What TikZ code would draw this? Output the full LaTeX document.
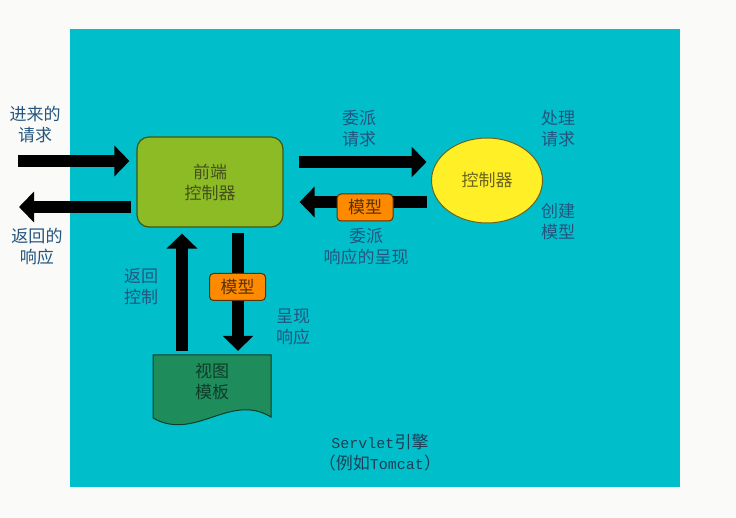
\documentclass[tikz,border=0pt]{standalone}
\usepackage{fontspec}
\setmainfont{Noto Sans CJK SC}
\newfontfamily\latinmono{Liberation Mono}
\usetikzlibrary{arrows.meta,shapes.geometric}
\definecolor{pagebg}{HTML}{FAFAF8}
\definecolor{bgcyan}{HTML}{00BFCB}
\definecolor{fcgreen}{HTML}{8CBB26}
\definecolor{fcborder}{HTML}{3E5812}
\definecolor{ctlyellow}{HTML}{FFEF26}
\definecolor{ctlborder}{HTML}{6A6420}
\definecolor{modelorange}{HTML}{FF8A00}
\definecolor{modelborder}{HTML}{5A3300}
\definecolor{docgreen}{HTML}{1F8C5C}
\definecolor{docborder}{HTML}{0E3D29}
\definecolor{labelblue}{HTML}{24557F}
\definecolor{boxtext}{HTML}{44521C}
\definecolor{enginetext}{HTML}{1E3E56}
\tikzset{
  cjk/.style={font=\fontsize{17}{21}\selectfont},
  lbl/.style={cjk, text=labelblue, align=center, inner sep=0pt},
  fcbox/.style={cjk, draw=fcborder, line width=1.2pt, fill=fcgreen, rounded corners=12pt,
    minimum width=146pt, minimum height=90pt, align=center, text=boxtext},
  ctlell/.style={cjk, ellipse, draw=ctlborder, line width=1pt, fill=ctlyellow,
    minimum width=111pt, minimum height=85pt, inner sep=0pt, text=ctlborder},
  modelbox/.style={cjk, draw=modelborder, line width=1pt, fill=modelorange, rounded corners=4pt,
    minimum width=56pt, minimum height=27pt, inner sep=0pt, text=modelborder},
  docbox/.style={cjk, minimum width=118pt, minimum height=54pt, inner sep=0pt, align=center, text=docborder},
  bigarrow/.style={line width=12pt, black, -{Triangle[length=15pt,width=30pt]}},
}
\begin{document}
\begin{tikzpicture}[x=1pt,y=-1pt]
\useasboundingbox (0,0) rectangle (736,518);
\fill[pagebg] (0,0) rectangle (736,518);
\fill[bgcyan] (70,29) rectangle (680,487);

% document shape
\fill[docgreen, draw=docborder, line width=1pt]
  (153,355) -- (271,355) -- (271,417) .. controls (230,392) and (195,442) .. (153,418) -- cycle;

\node[fcbox] (fc) at (210,182) {前端\\控制器};
\node[ctlell] (ctl) at (487,180.5) {控制器};
\node[docbox] (doc) at (212,382) {视图\\模板};

\coordinate (inL) at (18,161);
\coordinate (outL) at (19,207);

% arrows
\draw[bigarrow, shorten >=7pt] (inL) -- ([yshift=21pt]fc.west);
\draw[bigarrow, shorten <=5pt] ([yshift=-25pt]fc.west) -- (outL);
\draw[bigarrow, shorten <=15pt] ([yshift=20pt]fc.east) -- ([xshift=-4.5pt,yshift=18.5pt]ctl.west);
\draw[bigarrow] ([xshift=-4.5pt,yshift=-21.5pt]ctl.west) -- ([xshift=16pt,yshift=-20pt]fc.east);
\draw[bigarrow] ([xshift=-30pt,yshift=4pt]doc.north) -- ([xshift=-28pt,yshift=-6pt]fc.south);
\draw[bigarrow] ([xshift=28pt,yshift=-5pt]fc.south) -- ([xshift=26pt,yshift=4pt]doc.north);

\node[modelbox] (m1) at (365,207.5) {模型};
\node[modelbox] (m2) at (237.5,287) {模型};

% labels
\node[lbl] (l1) at (35,125) {进来的\\请求};
\node[lbl] (l2) at (37,247) {返回的\\响应};
\node[lbl] (l3) at (359,129) {委派\\请求};
\node[lbl] (l4) at (558,129) {处理\\请求};
\node[lbl] (l5) at (366,247) {委派\\响应的呈现};
\node[lbl] (l6) at (558,222) {创建\\模型};
\node[lbl] (l7) at (141,287) {返回\\控制};
\node[lbl] (l8) at (293,327) {呈现\\响应};
\node[lbl, text=enginetext] (eng) at (380,453)
  {{\latinmono\fontsize{15}{21}\selectfont Servlet}引擎\\（例如{\latinmono\fontsize{15}{21}\selectfont Tomcat}）};
\end{tikzpicture}
\end{document}
